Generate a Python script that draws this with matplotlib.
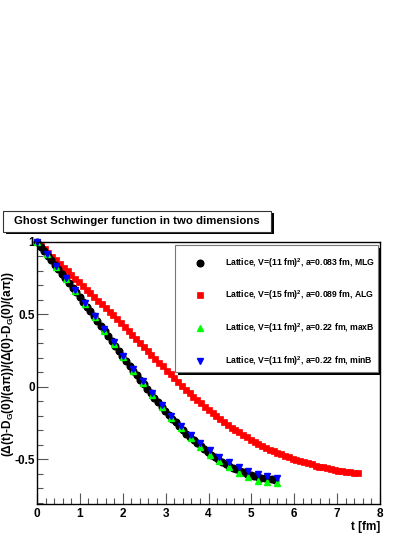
import matplotlib
matplotlib.use("Agg")
import matplotlib.pyplot as plt
from matplotlib.patches import Rectangle
from matplotlib.ticker import MultipleLocator

plt.rcParams["font.family"] = ["Liberation Sans", "DejaVu Sans"]
plt.rcParams["font.weight"] = "bold"
plt.rcParams["mathtext.fontset"] = "custom"
plt.rcParams["mathtext.rm"] = "Liberation Sans:bold"
plt.rcParams["mathtext.it"] = "Liberation Sans:bold"
plt.rcParams["mathtext.bf"] = "Liberation Sans:bold"
plt.rcParams["mathtext.default"] = "rm"

# lattice spacings (time step between points)
a_mlg = 0.083
a_alg = 0.089
a_b = 0.224

# MLG, V=(11 fm)^2, a=0.083 fm
mlg = [1.000, 0.968, 0.937, 0.905, 0.874, 0.842, 0.811, 0.779, 0.748, 0.716,
       0.685, 0.653, 0.622, 0.588, 0.554, 0.520, 0.486, 0.451, 0.417, 0.383,
       0.349, 0.315, 0.281, 0.247, 0.213, 0.179, 0.145, 0.111, 0.078, 0.047,
       0.017, -0.014, -0.045, -0.076, -0.106, -0.137, -0.168, -0.194, -0.220, -0.245,
       -0.271, -0.297, -0.323, -0.345, -0.367, -0.388, -0.410, -0.431, -0.453, -0.470,
       -0.486, -0.501, -0.517, -0.533, -0.549, -0.560, -0.570, -0.580, -0.590, -0.600,
       -0.610, -0.616, -0.622, -0.628, -0.633, -0.637, -0.640, -0.643]

# ALG, V=(15 fm)^2, a=0.089 fm
alg = [1.000, 0.975, 0.949, 0.924, 0.899, 0.873, 0.848, 0.822, 0.797, 0.772,
       0.746, 0.721, 0.696, 0.670, 0.645, 0.620, 0.594, 0.569, 0.543, 0.518,
       0.493, 0.467, 0.442, 0.415, 0.388, 0.360, 0.333, 0.305, 0.278, 0.250,
       0.222, 0.195, 0.167, 0.140, 0.112, 0.086, 0.059, 0.032, 0.005, -0.021,
       -0.046, -0.069, -0.092, -0.115, -0.138, -0.161, -0.182, -0.202, -0.223, -0.243,
       -0.264, -0.282, -0.299, -0.316, -0.333, -0.350, -0.367, -0.381, -0.394, -0.408,
       -0.421, -0.434, -0.447, -0.457, -0.467, -0.476, -0.486, -0.496, -0.505, -0.513,
       -0.521, -0.529, -0.537, -0.545, -0.551, -0.557, -0.563, -0.570, -0.576, -0.581,
       -0.585, -0.588, -0.592, -0.596, -0.599]

# maxB, V=(11 fm)^2, a=0.22 fm
maxb = [1.000, 0.915, 0.830, 0.745, 0.660, 0.571, 0.479, 0.387, 0.295, 0.203,
        0.112, 0.026, -0.058, -0.141, -0.218, -0.288, -0.355, -0.415, -0.470, -0.515,
        -0.555, -0.595, -0.625, -0.648, -0.660, -0.665]

# minB, V=(11 fm)^2, a=0.22 fm
minb = [1.000, 0.918, 0.835, 0.752, 0.668, 0.580, 0.490, 0.398, 0.306, 0.215,
        0.125, 0.040, -0.043, -0.125, -0.200, -0.268, -0.332, -0.390, -0.440, -0.482,
        -0.520, -0.553, -0.580, -0.602, -0.618, -0.628]

labels = [r"Lattice, V=(11 fm)$^{2}$, a=0.083 fm, MLG",
          r"Lattice, V=(15 fm)$^{2}$, a=0.089 fm, ALG",
          r"Lattice, V=(11 fm)$^{2}$, a=0.22 fm, maxB",
          r"Lattice, V=(11 fm)$^{2}$, a=0.22 fm, minB"]

t_mlg = [i * a_mlg for i in range(len(mlg))]
t_alg = [i * a_alg for i in range(len(alg))]
t_b = [i * a_b for i in range(len(maxb))]

W, H = 415, 537
fig = plt.figure(figsize=(W / 100, H / 100), dpi=100)
ax = fig.add_axes([37 / W, 1 - 504 / H, 343 / W, 262 / H])

h_alg, = ax.plot(t_alg, alg, "s", color="#ff0000", ms=5.0, mec="#ff0000", mew=0.5, clip_on=False)
h_mlg, = ax.plot(t_mlg, mlg, "o", color="black", ms=4.8, clip_on=False)
h_max, = ax.plot(t_b, maxb, "^", color="#00ff00", ms=4.6, clip_on=False)
h_min, = ax.plot(t_b, minb, "v", color="#0000ff", ms=4.6, clip_on=False)

ax.set_xlim(0, 8)
ax.set_ylim(-0.81, 1.0)
ax.xaxis.set_major_locator(MultipleLocator(1))
ax.xaxis.set_minor_locator(MultipleLocator(0.2))
ax.yaxis.set_major_locator(MultipleLocator(0.5))
ax.yaxis.set_minor_locator(MultipleLocator(0.1))
ax.yaxis.set_major_formatter(plt.FuncFormatter(lambda v, p: "%g" % v))
ax.tick_params(which="both", direction="in", top=False, right=False,
               labelsize=8.5, color="#555555", width=0.8)
ax.tick_params(which="major", length=8, pad=3)
ax.tick_params(axis="y", which="major", pad=1.5)
ax.tick_params(which="minor", length=4)
for s in ax.spines.values():
    s.set_linewidth(1.0)

ax.set_xlabel("t [fm]", fontsize=8.5, fontweight="bold")
ax.xaxis.set_label_coords(1.0, -0.065)
ax.xaxis.label.set_ha("right")
ax.set_ylabel(r"($\Delta$(t)-D$_{G}$(0)/(a$\pi$))/($\Delta$(0)-D$_{G}$(0)/(a$\pi$))",
              fontsize=8.6, fontweight="bold")
ax.yaxis.set_label_coords(-0.062, 0.535)

# legend box with black shadow (ROOT style)
fig.patches.append(Rectangle((178 / W, 1 - 375 / H), 203 / W, 127 / H,
                             transform=fig.transFigure, facecolor="black",
                             edgecolor="none", zorder=3))
fig.patches.append(Rectangle((175 / W, 1 - 372 / H), 203 / W, 127 / H,
                             transform=fig.transFigure, facecolor="white",
                             edgecolor="#777777", linewidth=0.8, zorder=4))
leg = fig.legend([h_mlg, h_alg, h_max, h_min], labels,
                 loc="upper left", bbox_to_anchor=(191.4 / W, 1 - 256 / H),
                 fontsize=6.2, frameon=False, borderpad=0, labelspacing=2.2,
                 handletextpad=1.9, handlelength=2.0, borderaxespad=0)
leg.set_zorder(5)

# title box
fig.patches.append(Rectangle((6 / W, 1 - 234 / H), 268 / W, 21 / H,
                             transform=fig.transFigure, facecolor="black",
                             edgecolor="none", zorder=1))
fig.patches.append(Rectangle((3 / W, 1 - 232 / H), 268 / W, 21 / H,
                             transform=fig.transFigure, facecolor="white",
                             edgecolor="#333333", linewidth=0.8, zorder=2))
fig.text(137 / W, 1 - 221.5 / H, "Ghost Schwinger function in two dimensions",
         ha="center", va="center", fontsize=8.2, fontweight="bold", zorder=3)

fig.savefig("out.png", dpi=100)
